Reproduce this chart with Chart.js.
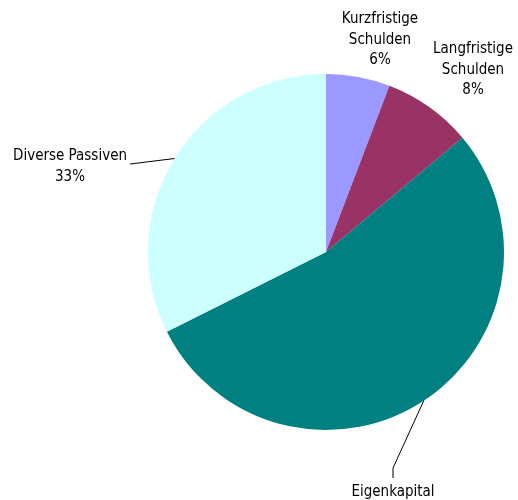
<!DOCTYPE html>
<html>
<head>
<meta charset="utf-8">
<script src="https://cdn.jsdelivr.net/npm/chart.js@4.4.0/dist/chart.umd.min.js"></script>
<style>
  html, body { margin: 0; padding: 0; background: #fff; }
  canvas { display: block; }
</style>
</head>
<body>
<canvas id="pie" width="518" height="500"></canvas>
<script>
const categories = ['Kurzfristige Schulden', 'Langfristige Schulden', 'Eigenkapital', 'Diverse Passiven'];
const shares = [5.8, 8.1, 53.7, 32.4];
const labelLines = [['Kurzfristige', 'Schulden'], ['Langfristige', 'Schulden'], ['Eigenkapital'], ['Diverse Passiven']];
const percentLabels = ['6%', '8%', '54%', '33%'];
const sliceColors = ['#9999FF', '#993366', '#008080', '#CCFFFF'];

// where each label sits, relative to pie centre (x of text centre, y of first baseline)
const labelOffsets = [[54, -229], [147, -199], [67, 244], [-256, -92]];
const leaderKind = [null, null, 'top', 'side'];

const FONT = '15px "DejaVu Sans Condensed", "DejaVu Sans", sans-serif';
const LINE_H = 20.6;

const labelPlugin = {
  id: 'sliceLabels',
  afterDatasetsDraw(chart) {
    const ctx = chart.ctx;
    const arcs = chart.getDatasetMeta(0).data;
    ctx.save();
    ctx.font = FONT;
    ctx.fillStyle = '#000';
    ctx.strokeStyle = '#000';
    ctx.lineWidth = 1;
    ctx.textAlign = 'center';
    ctx.textBaseline = 'alphabetic';
    arcs.forEach((arc, i) => {
      const { x, y, startAngle, endAngle, outerRadius } = arc.getProps(['x', 'y', 'startAngle', 'endAngle', 'outerRadius'], true);
      const mid = (startAngle + endAngle) / 2;
      const ex = x + Math.cos(mid) * outerRadius;
      const ey = y + Math.sin(mid) * outerRadius;
      const lx = x + labelOffsets[i][0];
      const ly = y + labelOffsets[i][1];
      const lines = labelLines[i].concat([percentLabels[i]]);
      lines.forEach((t, k) => ctx.fillText(t, lx, ly + k * LINE_H));

      if (leaderKind[i] === 'side') {
        const w = ctx.measureText(lines[0]).width;
        ctx.beginPath();
        ctx.moveTo(ex, ey);
        ctx.lineTo(lx + w / 2 + 3, ly + 4);
        ctx.stroke();
      } else if (leaderKind[i] === 'top') {
        ctx.beginPath();
        ctx.moveTo(ex, ey);
        ctx.lineTo(lx, ly - 28);
        ctx.lineTo(lx, ly - 18);
        ctx.stroke();
      }
    });
    ctx.restore();
  }
};

new Chart(document.getElementById('pie'), {
  type: 'pie',
  data: {
    labels: categories,
    datasets: [{
      data: shares,
      backgroundColor: sliceColors,
      borderWidth: 0
    }]
  },
  options: {
    responsive: false,
    animation: false,
    devicePixelRatio: 1,
    layout: { padding: { left: 148, right: 14, top: 74, bottom: 70 } },
    plugins: {
      legend: { display: false },
      tooltip: { enabled: false }
    }
  },
  plugins: [labelPlugin]
});
</script>
</body>
</html>
